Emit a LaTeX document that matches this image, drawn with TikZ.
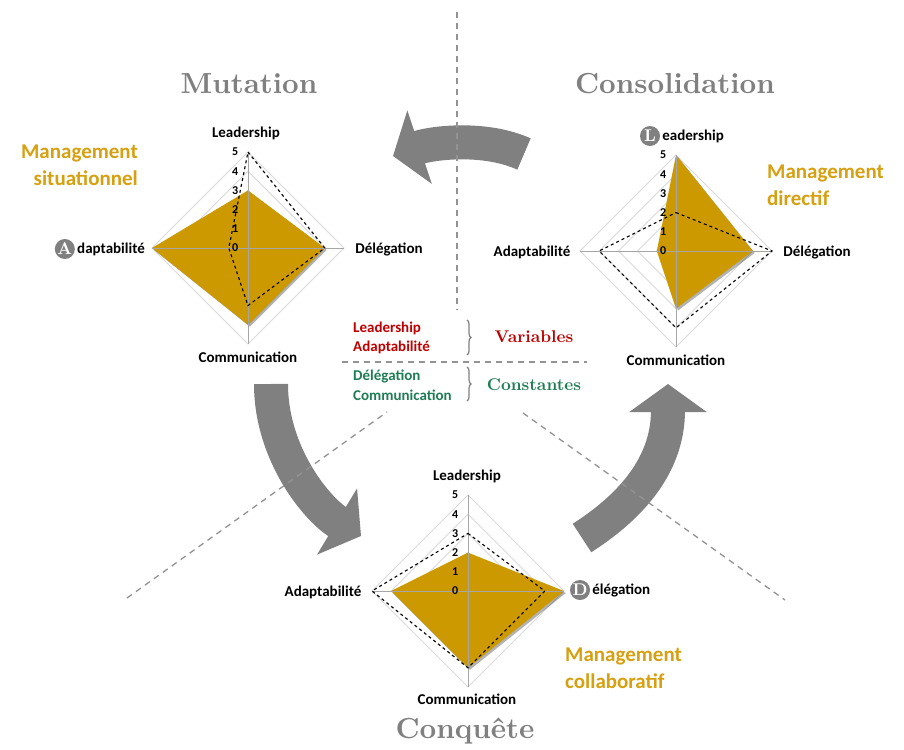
\documentclass[tikz,border=0pt]{standalone}
\usepackage{fontspec}
\newfontfamily\calib{Carlito}
\newfontfamily\lmbx{lmroman10-bold.otf}
\usetikzlibrary{positioning,arrows.meta,decorations.pathreplacing}
\definecolor{or}{RGB}{204,153,0}
\definecolor{ortexte}{RGB}{214,160,16}
\definecolor{gris}{RGB}{128,128,128}
\definecolor{grille}{RGB}{217,217,217}
\definecolor{rouge}{RGB}{192,0,0}
\definecolor{vert}{RGB}{31,125,85}
\tikzstyle{axe} = [font=\calib\bfseries\fontsize{15}{18}\selectfont, inner sep=1pt]
\tikzstyle{echelle} = [font=\calib\bfseries\fontsize{12}{14}\selectfont, inner sep=0pt, anchor=east]
\tikzstyle{titre} = [font=\lmbx\fontsize{29}{34}\selectfont, text=gris]
\tikzstyle{etat} = [font=\lmbx\fontsize{17}{20}\selectfont]
\tikzstyle{manag} = [font=\calib\bfseries\fontsize{21}{27}\selectfont, text=ortexte, inner sep=0pt]
\tikzstyle{pastille} = [circle, fill=gris, text=white, inner sep=0pt, minimum size=20pt, font=\lmbx\fontsize{17}{17}\selectfont]
\tikzstyle{fleche} = [line width=34pt, draw=gris, -{Triangle[length=28pt,width=76pt]}]
\tikzstyle{anneau} = [draw=grille, line width=0.9pt]
\tikzstyle{serie} = [fill=or]
\tikzstyle{ombre} = [fill=black, opacity=0.3]
\tikzstyle{pointille} = [draw=black, dashed, line width=1.1pt]
\tikzstyle{separation} = [draw=gris!85, line width=1.3pt, dash pattern=on 6pt off 5pt]
\tikzstyle{accolade} = [draw=gris, line width=1.2pt, decorate, decoration={brace, amplitude=4pt}]

\begin{document}
\begin{tikzpicture}[x=1pt, y=-1pt]
        \path[use as bounding box, fill=white] (0,0) rectangle (904,749);

        % fleches du cycle
        \coordinate (f1a) at (524,154);
        \coordinate (f1b) at (393,156);
        \coordinate (f2a) at (271,384);
        \coordinate (f2b) at (361,536);
        \coordinate (f3a) at (582,538);
        \coordinate (f3b) at (668,384);
        \draw[fleche] (f1a) .. controls (484,136) and (432,143) .. (f1b);
        \draw[fleche] (f2a) .. controls (271,455) and (318,510) .. (f2b);
        \draw[fleche] (f3a) .. controls (624,511) and (668,470) .. (f3b);

        \draw[separation] (457,12) -- (457,310);
        \draw[separation] (342,362) -- (587,362);
        \draw[separation] (127,598) -- (387,412);
        \draw[separation] (523,413) -- (785,600);

        \node (mutation) [titre] at (249,84) {Mutation};
        \node (consolidation) [titre] at (675,84) {Consolidation};
        \node (conquete) [titre] at (465,731) {Conquête};

        % radar Mutation
        \begin{scope}[shift={(248,248)}, x=19.2pt, y=19.2pt]
            \foreach \r in {1,...,5} \draw[anneau] (0,\r) -- (\r,0) -- (0,-\r) -- (-\r,0) -- cycle;
            \fill[ombre] (0.1,2.9) -- (4.1,-0.1) -- (0.1,-4.1) -- (-4.9,-0.1) -- cycle;
            \fill[serie] (0,3) -- (4,0) -- (0,-4) -- (-5,0) -- cycle;
            \draw[anneau, draw=gris!70] (0,5) -- (0,-5) (-5,0) -- (5,0);
            \draw[pointille] (0,5) -- (4,0) -- (0,-3) -- (-1,0) -- cycle;
            \foreach \v in {0,...,5} \node (m\v) [echelle] at (-0.5,\v) {\v};
        \end{scope}
        \node (lead1) [axe] at (246,133) {Leadership};
        \node (deleg1) [axe] at (389,249) {Délégation};
        \node (comm1) [axe] at (248,357) {Communication};
        \node (adapt1) [axe, anchor=east] at (146,249) {daptabilité};
        \node (pA) [pastille, left=1pt of adapt1] {A};
        \node (msit) [manag, align=right, anchor=east] at (138,165) {Management\\situationnel};

        % radar Consolidation
        \begin{scope}[shift={(676,251)}, x=19.2pt, y=19.2pt]
            \foreach \r in {1,...,5} \draw[anneau] (0,\r) -- (\r,0) -- (0,-\r) -- (-\r,0) -- cycle;
            \fill[ombre] (0.1,4.9) -- (4.1,-0.1) -- (0.1,-3.1) -- (-0.9,-0.1) -- cycle;
            \fill[serie] (0,5) -- (4,0) -- (0,-3) -- (-1,0) -- cycle;
            \draw[anneau, draw=gris!70] (0,5) -- (0,-5) (-5,0) -- (5,0);
            \draw[pointille] (0,2) -- (5,0) -- (0,-4) -- (-4,0) -- cycle;
            \foreach \v in {0,...,5} \node (c\v) [echelle] at (-0.5,\v) {\v};
        \end{scope}
        \node (pL) [pastille] at (650,136) {L};
        \node (lead2) [axe, right=1pt of pL] {eadership};
        \node (deleg2) [axe] at (817,252) {Délégation};
        \node (adapt2) [axe] at (532,252) {Adaptabilité};
        \node (comm2) [axe] at (676,360) {Communication};
        \node (mdir) [manag, align=left, anchor=west] at (767,185) {Management\\directif};

        % radar Conquete
        \begin{scope}[shift={(468,591)}, x=19.2pt, y=19.2pt]
            \foreach \r in {1,...,5} \draw[anneau] (0,\r) -- (\r,0) -- (0,-\r) -- (-\r,0) -- cycle;
            \fill[ombre] (0.1,1.9) -- (5.1,-0.1) -- (0.1,-4.1) -- (-3.9,-0.1) -- cycle;
            \fill[serie] (0,2) -- (5,0) -- (0,-4) -- (-4,0) -- cycle;
            \draw[anneau, draw=gris!70] (0,5) -- (0,-5) (-5,0) -- (5,0);
            \draw[pointille] (0,3) -- (4,0) -- (0,-4) -- (-5,0) -- cycle;
            \foreach \v in {0,...,5} \node (q\v) [echelle] at (-0.5,\v) {\v};
        \end{scope}
        \node (lead3) [axe] at (467,476) {Leadership};
        \node (pD) [pastille] at (580,590) {D};
        \node (deleg3) [axe, right=1pt of pD] {élégation};
        \node (adapt3) [axe] at (323,592) {Adaptabilité};
        \node (comm3) [axe] at (467,699) {Communication};
        \node (mcol) [manag, align=left, anchor=west] at (565,668) {Management\\collaboratif};

        % legende centrale
        \node (lvar1) [axe, text=rouge, anchor=west] at (352,328) {Leadership};
        \node (lvar2) [axe, text=rouge, anchor=west] at (352,347) {Adaptabilité};
        \node (lcst1) [axe, text=vert, anchor=west] at (352,376) {Délégation};
        \node (lcst2) [axe, text=vert, anchor=west] at (352,395) {Communication};
        \draw[accolade] (467,320) -- (467,355);
        \draw[accolade] (467,367) -- (467,401);
        \node (variables) [etat, text=rouge] at (534,337) {Variables};
        \node (constantes) [etat, text=vert] at (534,385) {Constantes};
    \end{tikzpicture}
\end{document}
